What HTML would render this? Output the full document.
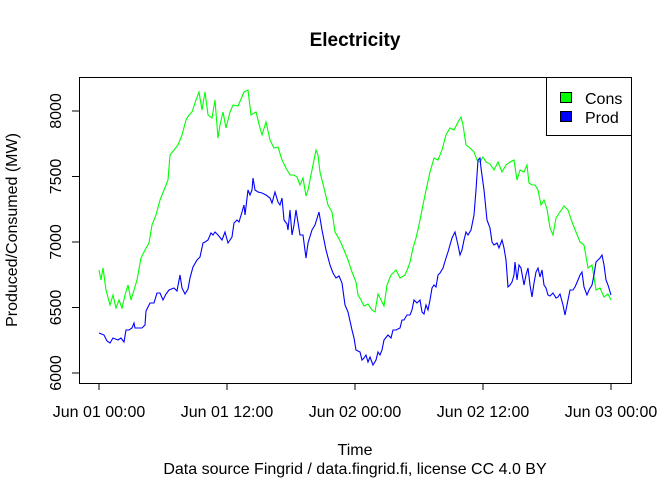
<!DOCTYPE html>
<html><head><meta charset="utf-8"><style>
html,body{margin:0;padding:0;background:#fff;}
svg{display:block;font-family:"Liberation Sans",Arial,sans-serif;}
</style></head><body>
<svg width="672" height="480" viewBox="0 0 672 480" xmlns="http://www.w3.org/2000/svg">
<rect width="672" height="480" fill="#fff"/>
<text x="355" y="46" font-size="19" font-weight="bold" text-anchor="middle">Electricity</text>
<rect x="79.5" y="77.5" width="552" height="306" fill="none" stroke="#000" stroke-width="1"/>
<g stroke="#000" stroke-width="1">
<line x1="99" y1="383.5" x2="611" y2="383.5"/>
<line x1="99" y1="383" x2="99" y2="390"/><line x1="227" y1="383" x2="227" y2="390"/><line x1="355" y1="383" x2="355" y2="390"/><line x1="483" y1="383" x2="483" y2="390"/><line x1="611" y1="383" x2="611" y2="390"/>
<line x1="79.5" y1="111" x2="79.5" y2="373"/>
<line x1="72" y1="373" x2="79" y2="373"/><line x1="72" y1="307.5" x2="79" y2="307.5"/><line x1="72" y1="242" x2="79" y2="242"/><line x1="72" y1="176.5" x2="79" y2="176.5"/><line x1="72" y1="111" x2="79" y2="111"/>
</g>
<g font-size="16" text-anchor="middle">
<text x="99" y="417">Jun 01 00:00</text><text x="227" y="417">Jun 01 12:00</text><text x="355" y="417">Jun 02 00:00</text><text x="483" y="417">Jun 02 12:00</text><text x="611" y="417">Jun 03 00:00</text>
<text x="355" y="455">Time</text>
<text x="355" y="474">Data source Fingrid / data.fingrid.fi, license CC 4.0 BY</text>
</g>
<g font-size="16" text-anchor="middle">
<text transform="translate(61,373) rotate(-90)">6000</text>
<text transform="translate(61,307.5) rotate(-90)">6500</text>
<text transform="translate(61,242) rotate(-90)">7000</text>
<text transform="translate(61,176.5) rotate(-90)">7500</text>
<text transform="translate(61,111) rotate(-90)">8000</text>
<text transform="translate(17,230) rotate(-90)">Produced/Consumed (MW)</text>
</g>
<polyline fill="none" stroke="#00ff00" stroke-width="1.1" points="99,270 101,280 103,268 106,290 110,305 113,295 116,308 119,300 122,308 125,295 128,285 131,300 134,290 137,280 141,258 145,250 149,243 152,225 156,215 160,200 164,190 168,180 170,155 174,150 178,145 182,135 186,120 189,115 192,112 196,100 199,92 202,110 205,92 208,115 212,118 215,100 218,138 220,125 223,112 226,128 230,112 233,105 238,106 244,92 248,90 251,115 256,112 260,128 262,135 266,122 270,140 274,148 278,147 282,160 286,168 290,175 294,175 297,177 300,185 303,178 306,196 308,190 312,170 314,160 316,150 318,155 320,172 324,188 328,205 332,212 335,232 338,237 341,243 344,250 348,260 352,272 356,282 358,295 361,300 364,306 368,304 372,310 375,312 378,294 381,300 384,306 387,285 391,275 396,270 400,278 405,275 408,268 410,262 413,248 416,238 419,225 422,210 425,195 430,172 434,158 438,160 442,150 446,135 450,128 454,130 458,122 461,117 463,125 466,145 470,148 474,152 477,160 480,162 483,157 486,162 490,164 494,170 498,162 502,172 506,165 510,162 514,160 517,180 520,170 524,172 527,165 529,183 532,185 535,185 538,190 541,205 544,200 547,209 550,228 553,235 556,218 560,212 564,206 568,210 572,222 576,232 580,242 584,245 588,268 592,265 596,290 600,288 604,297 608,294 611,300"/>
<polyline fill="none" stroke="#0000ff" stroke-width="1.1" points="99,333 104,335 107,341 110,343 113,338 118,340 121,338 124,342 126,330 129,330 132,328 134,323 135,328 137,328 142,328 145,325 146,311 150,303 154,303 157,293 160,293 163,300 166,294 169,290 174,288 177,291 180,275 182,288 185,294 188,289 190,278 193,267 197,260 200,257 203,243 205,242 208,240 211,233 213,235 215,232 218,235 222,240 225,232 228,243 232,237 234,223 237,220 239,222 242,212 244,205 245,215 248,190 250,195 252,190 253,178 255,190 258,192 262,193 266,195 270,198 272,203 275,192 278,202 280,205 282,198 284,220 287,224 288,230 290,210 292,235 294,225 296,210 300,235 303,235 306,258 308,243 312,230 315,225 319,212 322,230 326,250 330,265 333,273 336,278 339,276 342,283 345,305 348,312 352,330 354,338 356,350 360,352 362,360 364,358 366,355 368,362 370,357 373,365 376,360 378,352 380,355 382,350 384,340 388,335 391,338 393,330 396,330 400,328 402,320 404,320 407,315 410,315 412,310 414,300 417,303 420,300 422,312 424,314 426,305 428,310 430,300 432,288 434,285 436,287 438,275 440,273 443,268 446,258 448,252 452,238 455,232 458,245 460,255 462,250 464,240 466,232 468,235 471,230 474,215 476,190 478,160 480,158 481,168 484,190 487,220 490,228 492,242 494,245 497,243 499,248 502,240 504,248 506,260 508,287 510,285 512,282 514,275 515,262 517,280 519,265 521,268 524,285 526,275 528,268 530,285 532,297 534,283 536,272 538,268 540,277 542,270 544,285 546,288 548,295 550,296 553,293 556,298 558,297 560,294 563,305 565,315 568,300 570,290 573,290 575,287 578,280 580,275 582,272 584,287 587,295 589,290 592,285 594,275 596,262 598,260 600,258 602,255 604,265 606,280 608,285 611,295"/>
<rect x="546.5" y="77.5" width="85" height="58" fill="#fff" stroke="#000"/>
<rect x="560.5" y="92.5" width="11" height="10" fill="#00ff00" stroke="#000"/>
<rect x="560.5" y="111.5" width="11" height="10" fill="#0000ff" stroke="#000"/>
<text x="585" y="104" font-size="16">Cons</text>
<text x="585" y="123" font-size="16">Prod</text>
</svg>
</body></html>
